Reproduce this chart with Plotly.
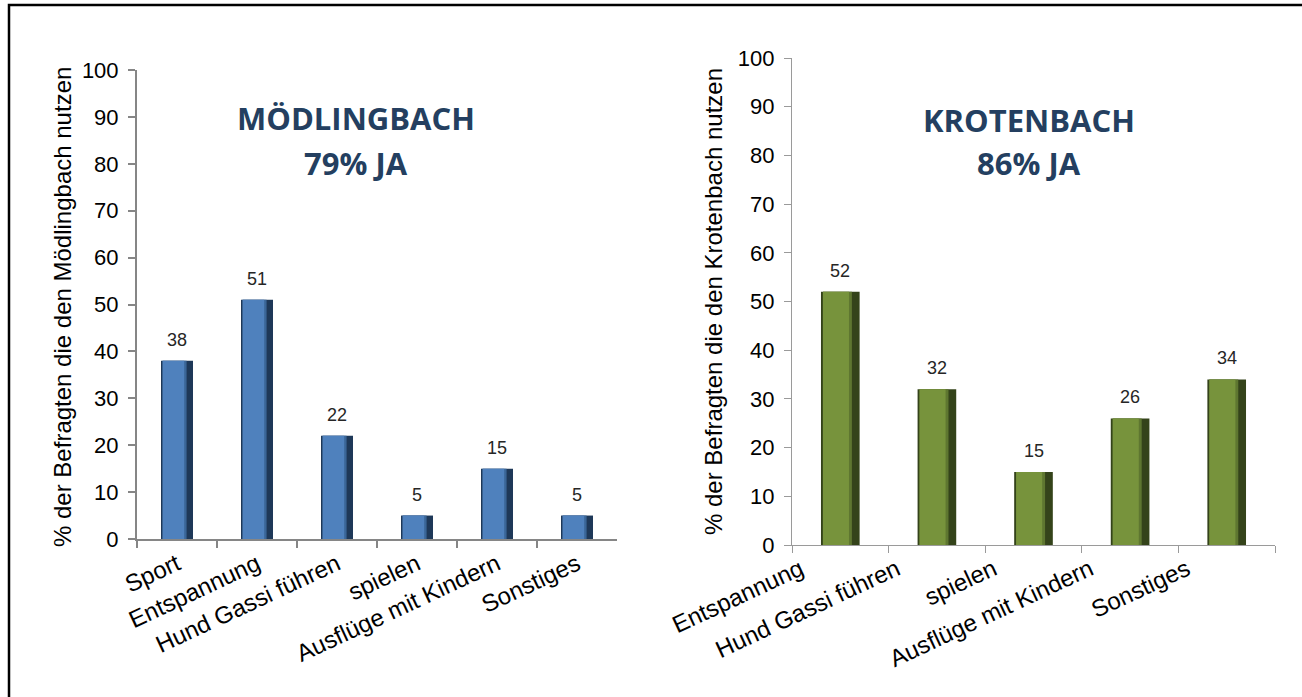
import plotly.graph_objects as go

# ---------------- data ----------------
cats_left = ["Sport", "Entspannung", "Hund Gassi führen", "spielen", "Ausflüge mit Kindern", "Sonstiges"]
vals_left = [38, 51, 22, 5, 15, 5]
title_left = ["MÖDLINGBACH", "79% JA"]
ytitle_left = "% der Befragten die den Mödlingbach nutzen"

cats_right = ["Entspannung", "Hund Gassi führen", "spielen", "Ausflüge mit Kindern", "Sonstiges"]
vals_right = [52, 32, 15, 26, 34]
title_right = ["KROTENBACH", "86% JA"]
ytitle_right = "% der Befragten die den Krotenbach nutzen"

y_ticks = [0, 10, 20, 30, 40, 50, 60, 70, 80, 90, 100]

# ---------------- styling ----------------
W, H = 1302, 697
FONT = "Liberation Sans, Arial, sans-serif"
TITLE_FONT = "Open Sans, sans-serif"
TITLE_COLOR = "#243F60"

blue = dict(dark="#1E3858", mid="#3A6698", main="#4F81BD")
green = dict(dark="#34431A", mid="#5E7630", main="#77933C")

fig = go.Figure()


def add_bars(cats, vals, col, xa, ya):
    # outer dark shell
    fig.add_trace(go.Bar(x=cats, y=vals, width=0.4, offset=-0.2,
                         marker=dict(color=col["dark"], line=dict(width=0)),
                         xaxis=xa, yaxis=ya, showlegend=False, hoverinfo="skip"))
    # shading band
    fig.add_trace(go.Bar(x=cats, y=vals, width=0.3, offset=-0.18,
                         marker=dict(color=col["mid"], line=dict(width=0)),
                         xaxis=xa, yaxis=ya, showlegend=False, hoverinfo="skip"))
    # main face
    fig.add_trace(go.Bar(x=cats, y=vals, width=0.27, offset=-0.18,
                         marker=dict(color=col["main"], line=dict(width=0)),
                         xaxis=xa, yaxis=ya, showlegend=False,
                         hovertemplate="%{x}: %{y}<extra></extra>"))


add_bars(cats_left, vals_left, blue, "x", "y")
add_bars(cats_right, vals_right, green, "x2", "y2")

annotations = []
for c, v in zip(cats_left, vals_left):
    annotations.append(dict(x=c, y=v, xref="x", yref="y", text=str(v), showarrow=False,
                            yanchor="bottom", yshift=9,
                            font=dict(family=FONT, size=18, color="#262626")))
for c, v in zip(cats_right, vals_right):
    annotations.append(dict(x=c, y=v, xref="x2", yref="y2", text=str(v), showarrow=False,
                            yanchor="bottom", yshift=9,
                            font=dict(family=FONT, size=18, color="#262626")))

# chart titles
for txt, (px, py) in zip(title_left, [(356, 118), (356, 163)]):
    annotations.append(dict(x=px / W, y=1 - py / H, xref="paper", yref="paper", text="<b>%s</b>" % txt,
                            showarrow=False, xanchor="center", yanchor="middle",
                            font=dict(family=TITLE_FONT, size=31, color=TITLE_COLOR)))
for txt, (px, py) in zip(title_right, [(1029, 120), (1029, 163)]):
    annotations.append(dict(x=px / W, y=1 - py / H, xref="paper", yref="paper", text="<b>%s</b>" % txt,
                            showarrow=False, xanchor="center", yanchor="middle",
                            font=dict(family=TITLE_FONT, size=31, color=TITLE_COLOR)))

# y-axis titles
annotations.append(dict(x=62 / W, y=1 - 307 / H, xref="paper", yref="paper", text=ytitle_left,
                        textangle=-90, showarrow=False, xanchor="center", yanchor="middle",
                        font=dict(family=FONT, size=24, color="black")))
annotations.append(dict(x=713 / W, y=1 - 302 / H, xref="paper", yref="paper", text=ytitle_right,
                        textangle=-90, showarrow=False, xanchor="center", yanchor="middle",
                        font=dict(family=FONT, size=24, color="black")))

yaxis_common = dict(range=[0, 100], tickvals=y_ticks, showgrid=False, zeroline=False,
                    showline=True, ticks="outside", ticklen=7, automargin=False,
                    tickfont=dict(family=FONT, size=22, color="black"), ticklabelstandoff=5)
xaxis_common = dict(type="category", showgrid=False, zeroline=False, showline=True,
                    ticks="outside", ticklen=7, tickson="boundaries", tickangle=-25,
                    automargin=False,
                    tickfont=dict(family=FONT, size=24, color="black"))

fig.update_layout(
    width=W, height=H,
    margin=dict(l=0, r=0, t=0, b=0, autoexpand=False),
    paper_bgcolor="white", plot_bgcolor="white",
    barmode="overlay",
    showlegend=False,
    xaxis=dict(domain=[137 / W, 617 / W], anchor="y", linecolor="#868686", linewidth=2,
               tickcolor="#868686", tickwidth=2, **xaxis_common),
    yaxis=dict(domain=[1 - 539 / H, 1 - 70 / H], anchor="x", linecolor="#868686", linewidth=2,
               tickcolor="#868686", tickwidth=2, **yaxis_common),
    xaxis2=dict(domain=[792 / W, 1275 / W], anchor="y2", linecolor="#9A9A9A", linewidth=1.3,
                tickcolor="#9A9A9A", tickwidth=1.3, ticklabelshift=-40, **xaxis_common),
    yaxis2=dict(domain=[1 - 545 / H, 1 - 58 / H], anchor="x2", linecolor="#9A9A9A", linewidth=1.3,
                tickcolor="#9A9A9A", tickwidth=1.3, **yaxis_common),
    annotations=annotations,
    shapes=[dict(type="rect", xref="paper", yref="paper",
                 x0=9 / W, x1=1.05, y0=-0.05, y1=1 - 5 / H,
                 line=dict(color="black", width=2.5), fillcolor="rgba(0,0,0,0)", layer="above")],
)

fig.write_html("out.html")
